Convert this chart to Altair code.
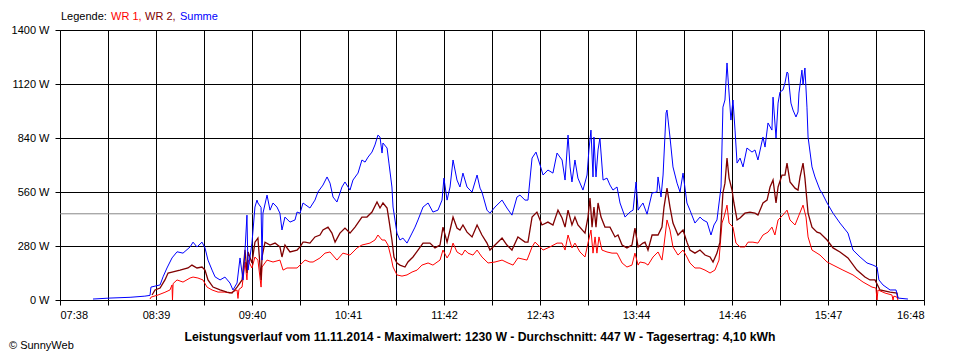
import altair as alt
import pandas as pd

# time in minutes since midnight, power in W
x_labels = ["07:38", "08:39", "09:40", "10:41", "11:42", "12:43", "13:44", "14:46", "15:47", "16:48"]
t_start, t_end = 458, 1008
y_ticks = [0, 280, 560, 840, 1120, 1400]
average_w = 447

summe = [
    (479.0, 5), (489.8, 10), (502.6, 14), (512.0, 20), (515.3, 24), (515.9, 67), (518.5, 72), (521.7, 78),
    (523.6, 120), (526.1, 166), (529.3, 218), (532.5, 250), (536.3, 243), (540.8, 275), (542.7, 300),
    (545.2, 275), (548.4, 300), (550.3, 270), (552.2, 207), (554.8, 155), (556.7, 120), (559.9, 104),
    (563.0, 119), (566.2, 88), (568.1, 52), (570.7, 88), (572.6, 218), (574.5, 104), (575.8, 260),
    (577.0, 440), (577.7, 155), (580.2, 295), (582.1, 482), (583.4, 518), (584.0, 503), (586.0, 480),
    (586.6, 207), (587.2, 450), (589.8, 544), (591.7, 466), (593.6, 503), (596.1, 482), (598.0, 450),
    (599.3, 363), (601.2, 430), (604.4, 404), (607.6, 415), (608.9, 456), (610.8, 450), (612.7, 503),
    (617.1, 477), (620.3, 518), (622.2, 560), (625.4, 596), (628.0, 638), (629.9, 606), (631.8, 534),
    (634.3, 508), (637.5, 586), (639.4, 612), (642.6, 570), (644.5, 622), (647.7, 658), (650.2, 726),
    (652.2, 715), (654.1, 741), (656.6, 767), (658.5, 804), (660.4, 855), (661.7, 845), (663.0, 762),
    (663.6, 814), (666.2, 788), (667.4, 710), (669.3, 586), (670.0, 482), (672.5, 347), (674.4, 311),
    (676.3, 321), (678.9, 295), (682.1, 347), (684.0, 378), (685.9, 415), (689.1, 482), (692.3, 503),
    (695.4, 456), (698.6, 466), (701.2, 518), (702.4, 632), (704.4, 518), (706.3, 586), (708.2, 726),
    (710.7, 622), (712.6, 586), (714.5, 658), (717.1, 586), (719.0, 570), (720.3, 560), (723.5, 648),
    (725.4, 580), (726.6, 560), (729.8, 466), (731.7, 450), (734.9, 482), (739.4, 518), (742.5, 477),
    (745.7, 440), (748.9, 534), (750.8, 544), (754.0, 518), (755.9, 518), (758.5, 736), (761.0, 767),
    (763.6, 700), (765.5, 648), (768.6, 674), (771.8, 658), (774.4, 762), (777.6, 726), (779.5, 622),
    (781.4, 855), (782.7, 690), (783.9, 612), (785.8, 726), (787.7, 632), (790.9, 570), (793.5, 648),
    (794.7, 778), (796.0, 881), (797.3, 638), (797.9, 845), (799.2, 638), (800.5, 778), (801.7, 840),
    (803.7, 622), (806.2, 632), (808.1, 596), (810.0, 570), (812.6, 586), (814.5, 503), (817.7, 430),
    (820.8, 456), (822.8, 466), (824.7, 612), (826.0, 466), (827.2, 482), (829.1, 503), (831.7, 445),
    (834.9, 555), (838.0, 560), (838.7, 638), (840.6, 534), (841.9, 648), (843.8, 970), (844.4, 985),
    (846.3, 845), (848.2, 690), (850.8, 606), (852.7, 560), (854.6, 658), (857.1, 503), (859.0, 466),
    (862.2, 399), (865.4, 430), (867.3, 415), (869.9, 404), (872.4, 337), (874.3, 389), (876.2, 415),
    (878.8, 586), (880.0, 1000), (881.3, 1037), (882.6, 1229), (883.2, 1156), (885.1, 933), (886.4, 1037),
    (887.7, 881), (889.0, 710), (890.9, 736), (892.8, 690), (895.3, 788), (898.5, 767), (900.4, 778),
    (902.3, 726), (905.5, 845), (906.8, 793), (908.7, 918), (911.2, 881), (911.9, 1052), (913.8, 840),
    (915.1, 1021), (916.3, 1078), (918.2, 1089), (919.5, 1125), (920.8, 1182), (921.4, 1177), (923.3, 1021),
    (924.6, 985), (926.5, 949), (927.8, 975), (928.4, 1073), (930.3, 1192), (931.0, 1115), (932.2, 1203),
    (933.5, 1000), (934.2, 845), (936.7, 690), (938.6, 638), (941.8, 570), (943.1, 555), (946.3, 503),
    (950.1, 450), (954.5, 399), (959.6, 347), (962.8, 259), (967.3, 223), (971.7, 192), (975.5, 181),
    (978.1, 171), (979.3, 104), (981.9, 78), (986.4, 52), (990.2, 52), (991.4, 10), (997.8, 5),
]

wr2 = [
    (516.6, 26), (518.5, 52), (521.7, 62), (524.8, 104), (526.8, 140), (529.3, 145), (534.4, 155),
    (539.5, 166), (542.0, 181), (545.2, 166), (548.4, 171), (550.3, 155), (552.2, 104), (555.4, 67),
    (559.9, 52), (564.3, 41), (567.5, 36), (570.7, 67), (573.9, 104), (575.8, 260), (577.0, 140),
    (577.7, 249), (580.2, 192), (582.1, 300), (584.0, 321), (586.0, 104), (586.6, 223), (588.5, 300),
    (591.7, 285), (594.9, 295), (598.0, 275), (599.3, 223), (601.2, 285), (604.4, 249), (608.9, 259),
    (610.8, 275), (612.7, 300), (614.0, 300), (617.1, 295), (620.3, 327), (623.5, 337), (625.4, 363),
    (628.6, 378), (631.1, 347), (633.1, 300), (636.2, 347), (639.4, 373), (642.6, 347), (645.8, 378),
    (650.2, 430), (653.4, 430), (656.6, 456), (659.8, 508), (661.7, 477), (663.6, 503), (666.2, 477),
    (667.4, 415), (669.3, 311), (670.6, 223), (672.5, 192), (674.4, 181), (677.6, 171), (679.5, 197),
    (682.7, 223), (685.9, 259), (689.1, 295), (693.5, 295), (696.7, 270), (699.9, 285), (701.8, 378),
    (704.4, 300), (706.3, 363), (708.2, 430), (710.7, 373), (712.6, 363), (714.5, 389), (717.1, 352),
    (720.3, 327), (723.5, 389), (726.6, 337), (729.8, 295), (731.7, 259), (734.9, 285), (739.4, 321),
    (742.5, 285), (745.7, 259), (749.5, 327), (754.0, 300), (755.9, 300), (758.5, 430), (761.6, 456),
    (764.8, 389), (768.6, 404), (771.8, 389), (775.0, 466), (777.6, 425), (779.5, 378), (781.4, 466),
    (783.9, 389), (785.8, 430), (787.7, 389), (792.2, 347), (794.1, 430), (795.4, 529), (796.7, 378),
    (797.9, 482), (799.2, 378), (800.5, 503), (802.4, 430), (804.9, 378), (808.1, 378), (811.3, 327),
    (813.2, 337), (815.8, 285), (818.9, 270), (822.1, 285), (824.0, 373), (826.0, 275), (829.1, 295),
    (830.4, 300), (832.3, 259), (834.9, 337), (838.7, 337), (841.2, 378), (842.5, 482), (844.4, 580),
    (846.3, 482), (848.2, 399), (851.4, 337), (854.6, 363), (857.1, 300), (859.0, 259), (862.2, 243),
    (865.4, 259), (868.6, 233), (871.8, 223), (873.7, 197), (876.2, 243), (878.1, 300), (880.0, 555),
    (881.3, 606), (882.6, 736), (883.9, 632), (885.8, 570), (887.0, 503), (889.0, 415), (890.9, 425),
    (894.0, 450), (897.2, 456), (900.4, 450), (902.3, 440), (905.5, 503), (908.1, 518), (910.0, 586),
    (911.9, 622), (913.8, 503), (915.1, 586), (917.6, 648), (919.5, 648), (920.8, 710), (922.7, 612),
    (925.9, 580), (927.8, 570), (929.1, 638), (931.0, 710), (932.2, 632), (934.2, 450), (936.7, 378),
    (939.9, 352), (941.8, 347), (946.3, 311), (950.1, 270), (954.5, 249), (959.6, 218), (965.3, 155),
    (970.4, 119), (973.6, 104), (976.8, 104), (980.0, 52), (986.4, 41), (990.8, 36), (991.4, 10),
]

wr1 = [
    (515.3, 5), (516.0, 15), (520.4, 26), (524.8, 40), (528.0, 52), (529.3, 78), (529.6, 0), (530.0, 85),
    (532.5, 104), (536.3, 93), (540.8, 114), (542.7, 119), (545.8, 114), (549.0, 104), (551.6, 67),
    (554.8, 52), (558.6, 41), (563.0, 41), (566.2, 36), (570.7, 52), (571.3, 8), (571.9, 55), (573.9, 67),
    (575.8, 197), (577.0, 104), (577.7, 207), (580.2, 166), (582.1, 223), (584.0, 207), (586.0, 67),
    (586.6, 171), (589.8, 207), (593.6, 197), (598.0, 207), (600.0, 155), (602.5, 166), (608.9, 166),
    (610.8, 181), (614.0, 207), (617.1, 197), (619.1, 197), (623.5, 218), (626.7, 243), (629.9, 249),
    (634.3, 207), (638.1, 243), (642.6, 233), (647.1, 270), (650.2, 285), (655.3, 295), (658.5, 311),
    (660.4, 337), (663.0, 311), (664.9, 311), (666.8, 285), (668.7, 223), (670.0, 171), (672.5, 130),
    (675.7, 124), (678.9, 130), (682.1, 145), (685.3, 155), (688.4, 181), (692.3, 192), (695.4, 181),
    (699.9, 207), (701.8, 259), (704.4, 218), (706.3, 243), (708.2, 295), (710.7, 249), (713.9, 233),
    (715.8, 259), (717.7, 243), (720.9, 233), (723.5, 259), (726.6, 223), (730.5, 192), (734.9, 197),
    (739.4, 207), (743.2, 192), (746.4, 181), (749.5, 218), (755.3, 207), (758.5, 275), (760.4, 300),
    (763.6, 275), (765.5, 259), (769.9, 275), (774.4, 295), (777.6, 295), (779.5, 259), (781.4, 337),
    (783.9, 270), (785.8, 295), (789.0, 249), (792.2, 223), (794.1, 295), (796.0, 363), (797.3, 243),
    (798.6, 327), (799.8, 243), (801.1, 327), (803.0, 259), (806.2, 249), (809.4, 243), (812.6, 243),
    (815.8, 192), (818.9, 171), (822.1, 181), (824.0, 243), (826.0, 181), (827.2, 197), (830.4, 192),
    (832.3, 181), (835.5, 223), (838.7, 249), (841.2, 207), (842.5, 285), (844.4, 415), (846.3, 363),
    (848.2, 275), (851.4, 233), (854.6, 259), (857.1, 223), (859.0, 192), (862.2, 166), (865.4, 166),
    (868.6, 155), (871.8, 140), (874.9, 155), (877.5, 207), (879.4, 399), (880.7, 430), (882.6, 492),
    (883.9, 399), (886.4, 378), (888.3, 295), (890.9, 275), (894.0, 275), (896.0, 300), (899.1, 300),
    (902.3, 295), (905.5, 337), (908.7, 352), (911.2, 378), (913.1, 337), (915.1, 415), (918.2, 440),
    (920.8, 466), (922.7, 415), (925.9, 389), (928.4, 440), (931.0, 492), (932.9, 430), (934.2, 327),
    (936.7, 259), (939.9, 243), (941.8, 233), (946.3, 197), (950.1, 181), (956.4, 155), (962.8, 130),
    (969.2, 93), (974.9, 67), (977.4, 62), (978.1, 0), (978.7, 52), (983.2, 36), (987.6, 26), (988.3, 0),
    (988.8, 20), (990.8, 15), (991.4, 0),
]

FONT = "Liberation Sans"
n_grid = 18
x_ticks = [t_start + k * (t_end - t_start) / n_grid for k in range(n_grid + 1)]
label_slots = []
for i, lab in enumerate(x_labels):
    label_slots.append(lab)
    if i < len(x_labels) - 1:
        label_slots.append("")
label_js = "[" + ",".join("'" + s + "'" for s in label_slots) + "]"
label_expr = f"{label_js}[round((datum.value - {t_start}) / {(t_end - t_start) / n_grid})]"

x_enc = alt.X(
    "t:Q",
    scale=alt.Scale(domain=[t_start, t_end], nice=False, zero=False),
    axis=alt.Axis(values=x_ticks, labelExpr=label_expr, title=None, grid=True),
)
y_enc = alt.Y(
    "w:Q",
    scale=alt.Scale(domain=[0, 1400], nice=False),
    axis=alt.Axis(values=y_ticks, labelExpr="datum.value + ' W'", title=None, grid=True),
)


def df_of(pairs):
    return pd.DataFrame({"t": [p[0] for p in pairs], "w": [p[1] for p in pairs]})


avg = alt.Chart(pd.DataFrame({"w": [average_w]})).mark_rule(color="#888888", strokeWidth=1).encode(y=y_enc)

line_wr1 = alt.Chart(df_of(wr1)).mark_line(color="#FF0000", strokeWidth=1).encode(x=x_enc, y=y_enc)
line_wr2 = alt.Chart(df_of(wr2)).mark_line(color="#800000", strokeWidth=1.3).encode(x=x_enc, y=y_enc)
line_sum = alt.Chart(df_of(summe)).mark_line(color="#0000FF", strokeWidth=1).encode(x=x_enc, y=y_enc)

legend_items = pd.DataFrame({
    "txt": ["Legende:", "WR 1,", "WR 2,", "Summe"],
    "col": ["#000000", "#FF0000", "#800000", "#0000FF"],
    "pos": [1, 51, 85, 120],
})
legend = alt.Chart(legend_items).mark_text(
    align="left", baseline="middle", font=FONT, fontSize=11
).encode(
    x=alt.X("pos:Q", scale=None),
    y=alt.value(-13),
    text="txt:N",
    color=alt.Color("col:N", scale=None),
)

title = alt.Chart(pd.DataFrame({"txt": [
    "Leistungsverlauf vom 11.11.2014 - Maximalwert: 1230 W - Durchschnitt: 447 W - Tagesertrag: 4,10 kWh"
]})).mark_text(align="center", baseline="middle", font=FONT, fontSize=12.2, fontWeight="bold", color="black").encode(
    x=alt.value(420), y=alt.value(307), text="txt:N"
)

credit = alt.Chart(pd.DataFrame({"txt": ["© SunnyWeb"]})).mark_text(
    align="left", baseline="middle", font=FONT, fontSize=11, color="black"
).encode(x=alt.value(-51), y=alt.value(316), text="txt:N")

chart = alt.layer(avg, line_wr1, line_wr2, line_sum, legend, title, credit).properties(
    width=864,
    height=270,
    autosize=alt.AutoSizeParams(type="none"),
    padding={"left": 52, "top": 22, "right": 28, "bottom": 52},
    background="white",
).configure_view(stroke=None).configure_axis(
    domainColor="black",
    tickColor="black",
    gridColor="black",
    gridOpacity=1,
    gridWidth=1,
    domainWidth=1,
    tickWidth=1,
    tickSize=5,
    labelFont=FONT,
    labelFontSize=11,
    labelColor="black",
).configure_axisX(labelPadding=4).configure_axisY(labelPadding=6)

chart.save("out.html", embed_options={"renderer": "svg", "actions": False})
